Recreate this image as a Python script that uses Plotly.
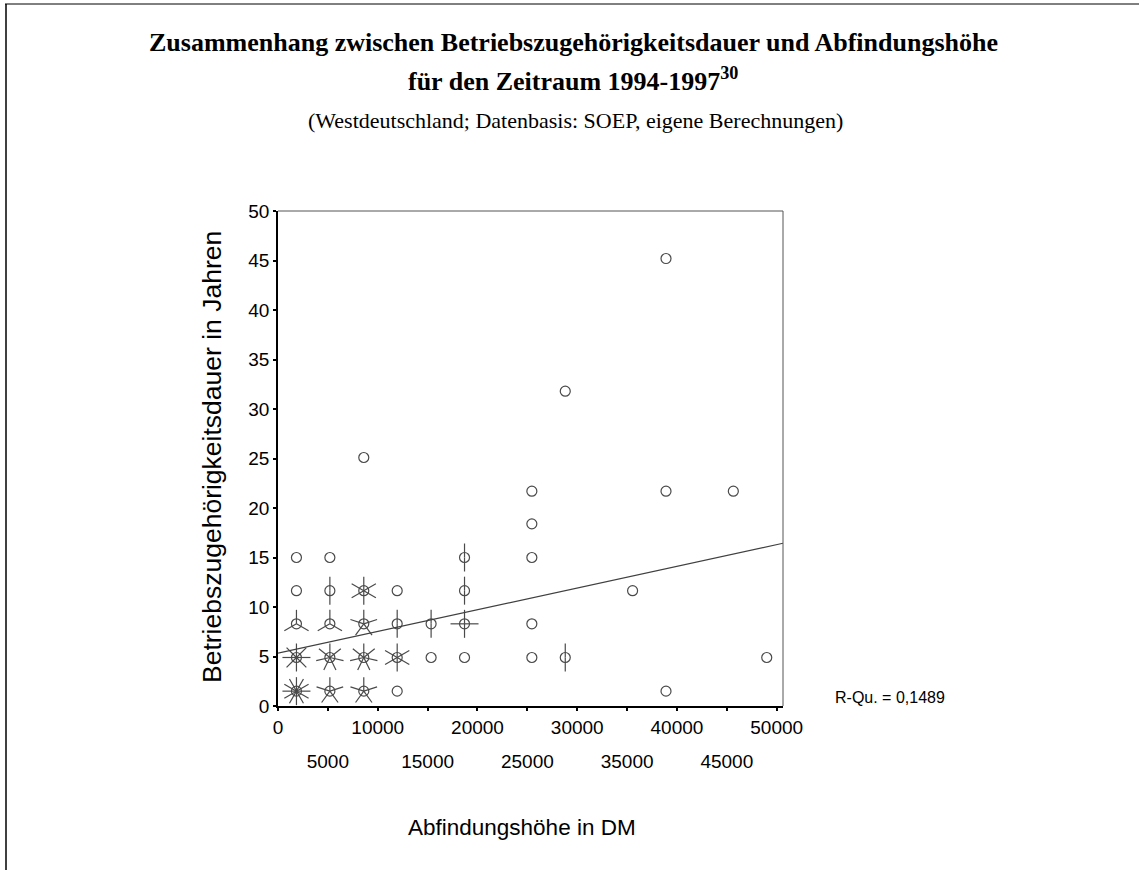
import math
import plotly.graph_objects as go

# ---------------- data ----------------
X_VALS = [1850, 5200, 8600, 11950, 38900,
          1850, 5200, 8600, 11950, 15350, 18700, 25450, 28800, 49000,
          1850, 5200, 8600, 11950, 15350, 18700, 25450,
          1850, 5200, 8600, 11950, 18700, 35550,
          1850, 5200, 18700, 25450,
          25450,
          25450, 38900, 45650,
          8600,
          28800,
          38900]
Y_VALS = [1.5, 1.5, 1.5, 1.5, 1.5,
          4.9, 4.9, 4.9, 4.9, 4.9, 4.9, 4.9, 4.9, 4.9,
          8.3, 8.3, 8.3, 8.3, 8.3, 8.3, 8.3,
          11.65, 11.65, 11.65, 11.65, 11.65, 11.65,
          15.0, 15.0, 15.0, 15.0,
          18.4,
          21.7, 21.7, 21.7,
          25.1,
          31.8,
          45.2]
COUNTS = [12, 5, 5, 1, 1,
          8, 7, 7, 6, 1, 1, 1, 2, 1,
          3, 3, 5, 2, 2, 4, 1,
          1, 2, 6, 1, 2, 1,
          1, 1, 2, 1,
          1,
          1, 1, 1,
          1,
          1,
          1]

INTERCEPT = 5.35
SLOPE = 0.000219
R_SQ_TEXT = "R-Qu. = 0,1489"

X_MAX = 50630
Y_MAX = 50
X_TICKS_MAIN = [0, 10000, 20000, 30000, 40000, 50000]
X_TICKS_ALT = [5000, 15000, 25000, 35000, 45000]
Y_TICKS = [0, 5, 10, 15, 20, 25, 30, 35, 40, 45, 50]

TITLE1 = "Zusammenhang zwischen Betriebszugehörigkeitsdauer und Abfindungshöhe"
TITLE2 = "für den Zeitraum 1994-1997<sup>30</sup>"
SUBTITLE = "(Westdeutschland; Datenbasis: SOEP, eigene Berechnungen)"
X_TITLE = "Abfindungshöhe in DM"
Y_TITLE = "Betriebszugehörigkeitsdauer in Jahren"

# ---------------- layout geometry ----------------
W, H = 1139, 870
ML, MR, MT, MB = 278, 356, 211, 164
PW = W - ML - MR
PH = H - MT - MB
PX_X = PW / X_MAX       # pixels per DM
PX_Y = PH / Y_MAX       # pixels per year
PETAL = 14              # petal length in pixels

def px2paper_x(px):
    return (px - ML) / PW

def px2paper_y(py):
    return (H - MB - py) / PH

# sunflower petals
px_list, py_list = [], []
for x, y, n in zip(X_VALS, Y_VALS, COUNTS):
    if n < 2:
        continue
    for k in range(n):
        a = math.pi / 2 - 2 * math.pi * k / n
        px_list += [x, x + PETAL * math.cos(a) / PX_X, None]
        py_list += [y, y + PETAL * math.sin(a) / PX_Y, None]

fig = go.Figure()
fig.add_trace(go.Scatter(x=px_list, y=py_list, mode="lines",
                         line=dict(color="#4a4a4a", width=1.2),
                         hoverinfo="skip", showlegend=False))
fig.add_trace(go.Scatter(x=X_VALS, y=Y_VALS, mode="markers",
                         marker=dict(symbol="circle-open", size=10,
                                     color="#4a4a4a", line=dict(width=1.2)),
                         showlegend=False))
fx = [0, X_MAX]
fig.add_trace(go.Scatter(x=fx, y=[INTERCEPT + SLOPE * v for v in fx], mode="lines",
                         line=dict(color="#404040", width=1.2), showlegend=False,
                         hoverinfo="skip"))
# invisible trace to carry the second (staggered) label axis
fig.add_trace(go.Scatter(x=X_TICKS_ALT[:1], y=Y_TICKS[:1], xaxis="x2", mode="markers",
                         marker=dict(opacity=0), showlegend=False, hoverinfo="skip"))

tickfont = dict(family="Liberation Sans, Arial", size=19, color="black")

fig.update_layout(
    width=W, height=H,
    margin=dict(l=ML, r=MR, t=MT, b=MB),
    paper_bgcolor="white", plot_bgcolor="white",
    showlegend=False,
    xaxis=dict(range=[0, X_MAX], tickvals=X_TICKS_MAIN,
               ticktext=[str(v) for v in X_TICKS_MAIN],
               ticks="outside", ticklen=3, tickwidth=2, tickcolor="black",
               minor=dict(tickvals=X_TICKS_ALT, ticks="outside", ticklen=3,
                          tickwidth=2, tickcolor="black", showgrid=False),
               showline=True, linecolor="black", linewidth=1.5,
               showgrid=False, zeroline=False, tickfont=tickfont),
    xaxis2=dict(range=[0, X_MAX], overlaying="x", side="bottom", anchor="y",
                tickvals=X_TICKS_ALT, ticktext=[str(v) for v in X_TICKS_ALT],
                ticks="", showline=False, showgrid=False, zeroline=False,
                ticklabelstandoff=42, tickfont=tickfont),
    yaxis=dict(range=[0, Y_MAX], tickvals=Y_TICKS,
               ticks="outside", ticklen=3, tickwidth=2, tickcolor="black",
               showline=True, linecolor="black", linewidth=1.5,
               showgrid=False, zeroline=False, tickfont=tickfont),
)

shapes = [
    # top and right frame of the plot area
    dict(type="line", xref="paper", yref="paper", x0=0, x1=1, y0=1, y1=1,
         line=dict(color="#555555", width=1)),
    dict(type="line", xref="paper", yref="paper", x0=1, x1=1, y0=0, y1=1,
         line=dict(color="#555555", width=1)),
    # page border lines
    dict(type="line", xref="paper", yref="paper", x0=px2paper_x(5), x1=px2paper_x(1139),
         y0=px2paper_y(4), y1=px2paper_y(4), line=dict(color="black", width=1)),
    dict(type="line", xref="paper", yref="paper", x0=px2paper_x(6), x1=px2paper_x(6),
         y0=px2paper_y(4), y1=px2paper_y(870), line=dict(color="black", width=1.5)),
]
fig.update_layout(shapes=shapes)

serif = "Liberation Serif, Times New Roman"
sans = "Liberation Sans, Arial"
ann = [
    dict(text="<b>" + TITLE1 + "</b>", x=px2paper_x(573), y=px2paper_y(42),
         font=dict(family=serif, size=26, color="black")),
    dict(text="<b>" + TITLE2 + "</b>", x=px2paper_x(573), y=px2paper_y(79),
         font=dict(family=serif, size=26, color="black")),
    dict(text=SUBTITLE, x=px2paper_x(575), y=px2paper_y(121),
         font=dict(family=serif, size=22, color="black")),
    dict(text=X_TITLE, x=px2paper_x(522), y=px2paper_y(827),
         font=dict(family=sans, size=22.5, color="black")),
    dict(text=Y_TITLE, x=px2paper_x(212), y=px2paper_y(457), textangle=-90,
         font=dict(family=sans, size=26.5, color="black")),
    dict(text=R_SQ_TEXT, x=px2paper_x(890), y=px2paper_y(697),
         font=dict(family=sans, size=16, color="black")),
]
for a in ann:
    a.update(xref="paper", yref="paper", showarrow=False, xanchor="center", yanchor="middle")
fig.update_layout(annotations=ann)

fig.write_html("out.html", config={"displayModeBar": False},
               post_script="document.body.style.margin='0';document.body.style.overflow='hidden';")
